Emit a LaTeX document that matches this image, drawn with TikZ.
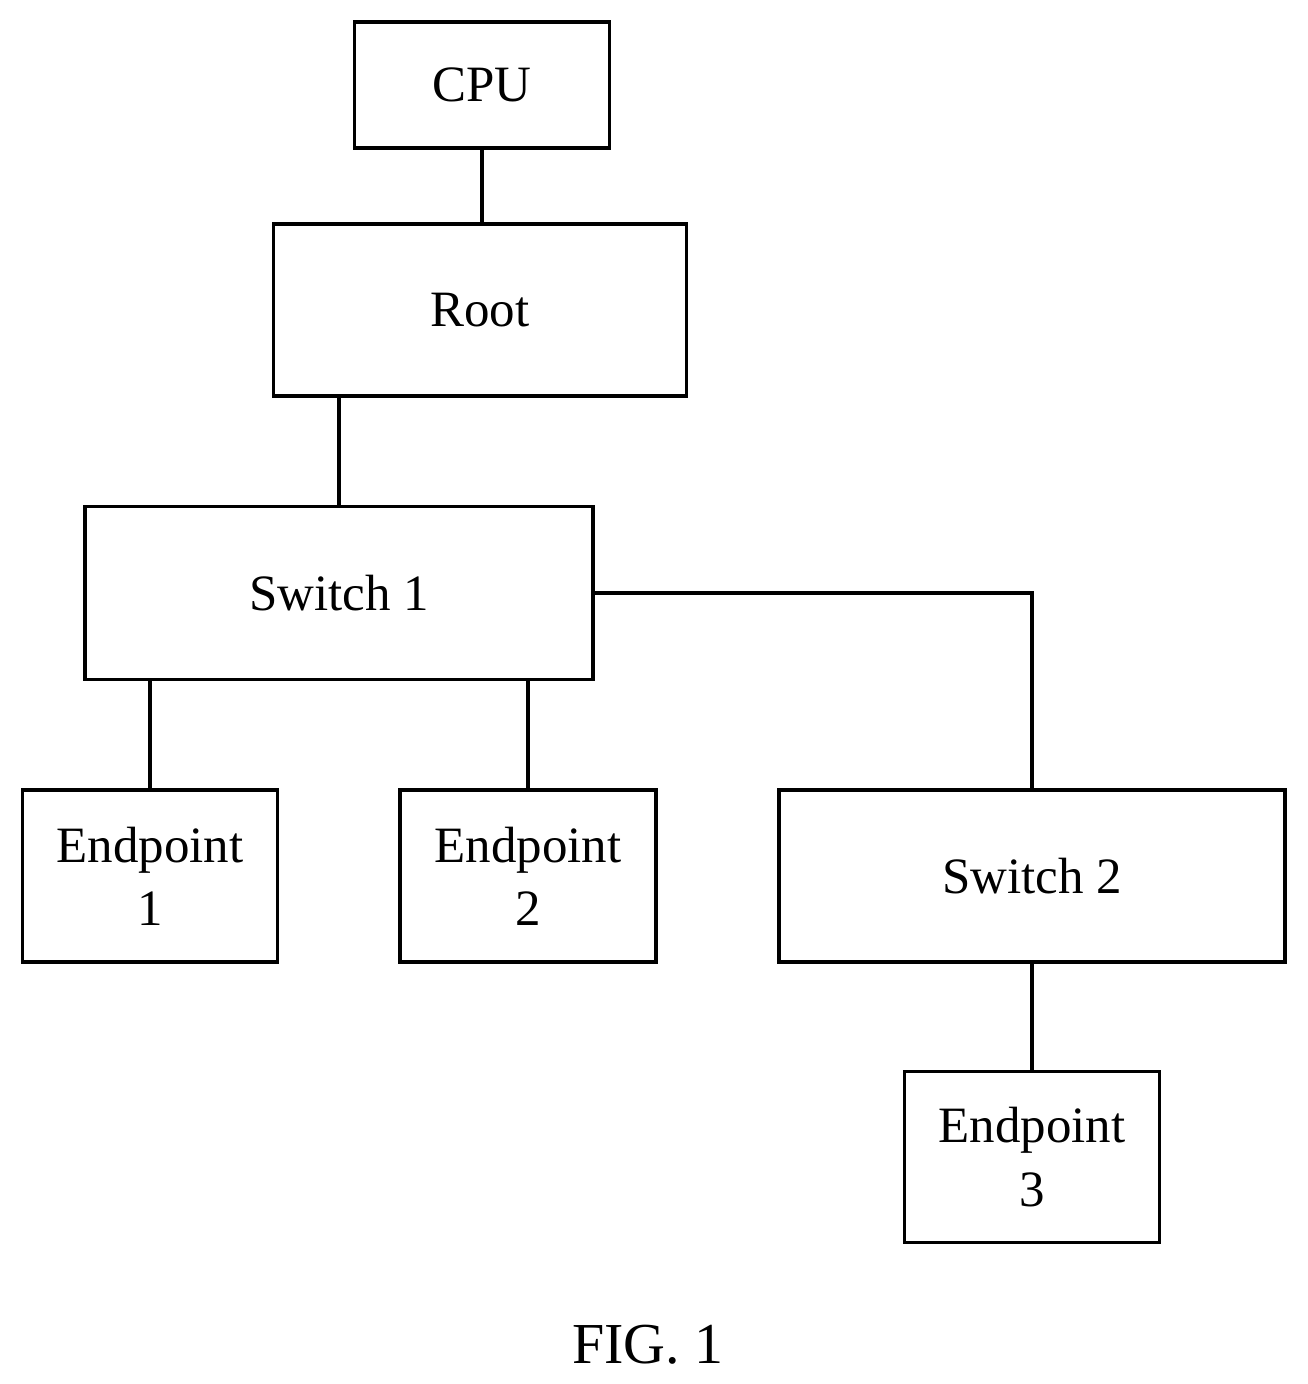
\documentclass[tikz,border=0pt]{standalone}
\usepackage{fontspec}
\setmainfont{Liberation Serif}
\begin{document}
\begin{tikzpicture}[x=0.02cm,y=-0.02cm,
  box/.style={draw,line width=2.2pt,inner sep=0pt,align=center,font=\fontsize{29}{36}\selectfont},
  wire/.style={line width=2.2pt}]
\useasboundingbox (0,0) rectangle (1308,1384);
\node[box,minimum width=255*0.02cm,minimum height=126*0.02cm] (cpu) at (482,85) {CPU};
\node[box,minimum width=413*0.02cm,minimum height=172*0.02cm] (root) at (480,310) {Root};
\node[box,minimum width=508*0.02cm,minimum height=173*0.02cm] (s1) at (339,593) {Switch 1};
\node[box,minimum width=255*0.02cm,minimum height=172*0.02cm] (e1) at (150,876) {Endpoint\\1};
\node[box,minimum width=256*0.02cm,minimum height=172*0.02cm] (e2) at (528,876) {Endpoint\\2};
\node[box,minimum width=506*0.02cm,minimum height=172*0.02cm] (s2) at (1032,876) {Switch 2};
\node[box,minimum width=255*0.02cm,minimum height=171*0.02cm] (e3) at (1032,1157) {Endpoint\\3};
\node[font=\fontsize{33}{40}\selectfont] (fig) at (648,1345) {FIG. 1};
\draw[wire] (cpu.south) -- (cpu.south |- root.north);
\draw[wire] (s1.north) -- (s1.north |- root.south);
\draw[wire] (e1.north) -- (e1.north |- s1.south);
\draw[wire] (e2.north) -- (e2.north |- s1.south);
\draw[wire] (s1.east) -| (s2.north);
\draw[wire] (s2.south) -- (e3.north);
\end{tikzpicture}
\end{document}
